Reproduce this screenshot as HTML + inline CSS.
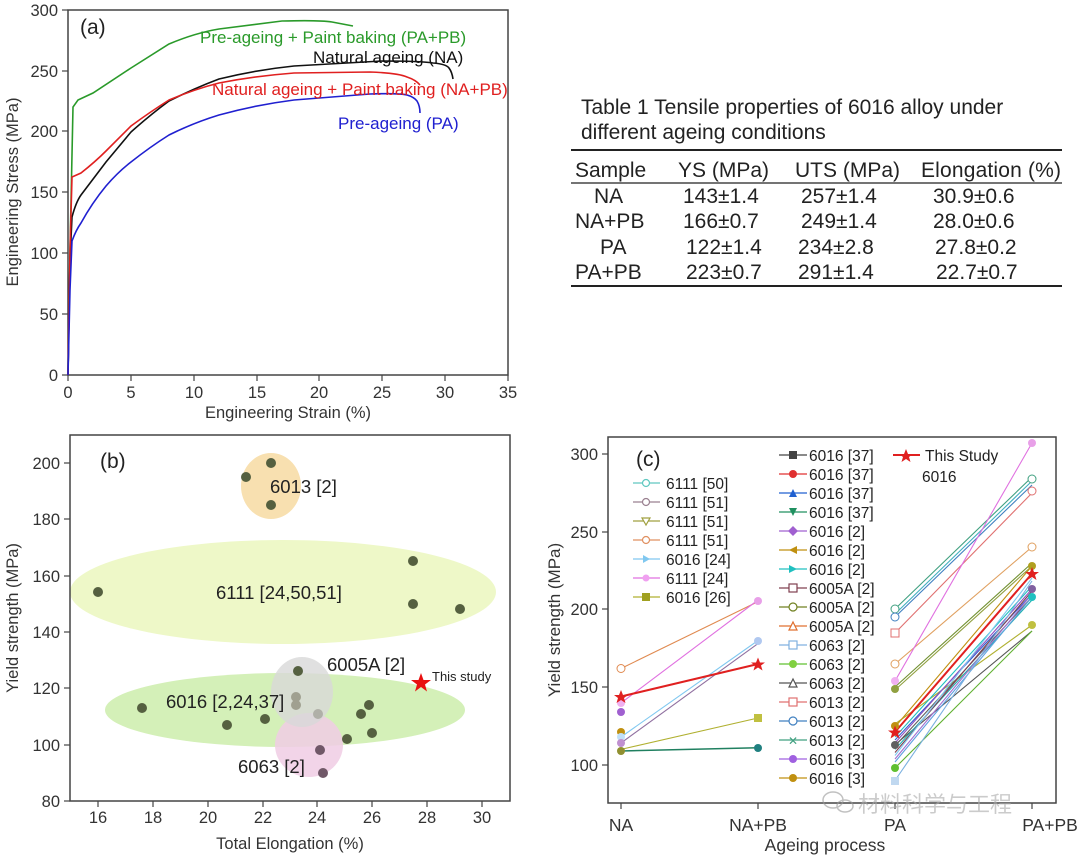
<!DOCTYPE html>
<html><head><meta charset="utf-8"><style>
html,body{margin:0;padding:0;background:#fff}
svg{display:block}
text{font-family:"Liberation Sans","Noto Sans CJK SC",sans-serif}
</style></head><body>
<svg width="1080" height="856" viewBox="0 0 1080 856" xmlns="http://www.w3.org/2000/svg">
<rect width="1080" height="856" fill="#fff"/>

<!-- Panel (a) -->
<g>
<rect x="68" y="10" width="440" height="365" fill="none" stroke="#444" stroke-width="1.5"/>
<g stroke="#444" stroke-width="1.2">
<line x1="68" y1="375" x2="68" y2="381"/><line x1="131" y1="375" x2="131" y2="381"/><line x1="194" y1="375" x2="194" y2="381"/><line x1="257" y1="375" x2="257" y2="381"/><line x1="319" y1="375" x2="319" y2="381"/><line x1="382" y1="375" x2="382" y2="381"/><line x1="445" y1="375" x2="445" y2="381"/><line x1="508" y1="375" x2="508" y2="381"/>
<line x1="62" y1="375" x2="68" y2="375"/><line x1="62" y1="314" x2="68" y2="314"/><line x1="62" y1="253" x2="68" y2="253"/><line x1="62" y1="192" x2="68" y2="192"/><line x1="62" y1="131" x2="68" y2="131"/><line x1="62" y1="71" x2="68" y2="71"/><line x1="62" y1="10" x2="68" y2="10"/>
</g>
<g font-size="16.5" fill="#333" text-anchor="middle">
<text x="68" y="398">0</text><text x="131" y="398">5</text><text x="194" y="398">10</text><text x="257" y="398">15</text><text x="319" y="398">20</text><text x="382" y="398">25</text><text x="445" y="398">30</text><text x="508" y="398">35</text>
<text x="288" y="418">Engineering Strain (%)</text>
</g>
<g font-size="16.5" fill="#333" text-anchor="end">
<text x="58" y="381">0</text><text x="58" y="320">50</text><text x="58" y="259">100</text><text x="58" y="198">150</text><text x="58" y="137">200</text><text x="58" y="77">250</text><text x="58" y="16">300</text>
</g>
<text transform="translate(18,192) rotate(-90)" font-size="16.5" fill="#333" text-anchor="middle">Engineering Stress (MPa)</text>
<text x="80" y="34" font-size="21" fill="#222">(a)</text>
<g fill="none" stroke-width="1.6">
<path d="M68,375 L70,250 L73,107 L78,100 L93,93 L131,68 L169,44 Q195,33 219,29 L282,21 Q320,20 332,22 L353,26" stroke="#2a9a2a"/>
<path d="M68,375 L70,260 L72,217 Q76,202 81,195 L106,162 L131,132 Q150,115 169,101 Q195,88 219,79 Q255,70 294,66 L382,61 Q420,61 433,63 Q446,64 449,68 Q452,72 453,79" stroke="#111"/>
<path d="M68,375 L70,250 L72,177 L81,173 Q95,162 106,151 L131,126 Q150,112 169,100 Q195,89 219,83 Q255,76 294,73 L370,72 Q398,73 407,77 Q416,80 420,85" stroke="#e02020"/>
<path d="M68,375 L70,290 L72,241 Q76,230 81,223 Q92,203 106,186 Q118,172 131,162 Q150,147 169,135 Q193,123 219,115 Q255,105 294,100 L370,94 Q400,93 407,95 Q414,97 417,101 Q420,106 420,113" stroke="#2020d0"/>
</g>
<text x="200" y="43" font-size="17" fill="#2a9a2a">Pre-ageing + Paint baking (PA+PB)</text>
<text x="313" y="63" font-size="17" fill="#111">Natural ageing (NA)</text>
<text x="212" y="95" font-size="17" fill="#e02020">Natural ageing + Paint baking (NA+PB)</text>
<text x="338" y="129" font-size="17" fill="#2020d0">Pre-ageing (PA)</text>
</g>

<!-- Table -->
<g font-size="21" fill="#222">
<text x="581" y="114">Table 1 Tensile properties of 6016 alloy under</text>
<text x="581" y="139">different ageing conditions</text>
<line x1="571" y1="150" x2="1062" y2="150" stroke="#222" stroke-width="2"/>
<text x="575" y="177">Sample</text><text x="678" y="177">YS (MPa)</text><text x="795" y="177">UTS (MPa)</text><text x="921" y="177" textLength="140">Elongation (%)</text>
<line x1="571" y1="183" x2="1062" y2="183" stroke="#222" stroke-width="1.2"/>
<text x="594" y="203">NA</text><text x="683" y="203">143±1.4</text><text x="801" y="203">257±1.4</text><text x="933" y="203">30.9±0.6</text>
<text x="575" y="228">NA+PB</text><text x="683" y="228">166±0.7</text><text x="801" y="228">249±1.4</text><text x="933" y="228">28.0±0.6</text>
<text x="600" y="254">PA</text><text x="686" y="254">122±1.4</text><text x="798" y="254">234±2.8</text><text x="935" y="254">27.8±0.2</text>
<text x="575" y="279">PA+PB</text><text x="686" y="279">223±0.7</text><text x="798" y="279">291±1.4</text><text x="936" y="279">22.7±0.7</text>
<line x1="571" y1="286" x2="1062" y2="286" stroke="#222" stroke-width="2"/>
</g>

<!-- Panel (b) -->
<g>
<ellipse cx="283" cy="592" rx="213" ry="52" fill="#eef8c8"/>
<ellipse cx="285" cy="710" rx="180" ry="37" fill="#d4f0b8"/>
<ellipse cx="271" cy="486" rx="30" ry="33" fill="#f8e0b0"/>
<ellipse cx="309" cy="745" rx="34" ry="32" fill="#f0cce4" opacity="0.85"/>
<ellipse cx="302" cy="692" rx="31" ry="35" fill="#d8d8d8" opacity="0.8"/>
<rect x="70" y="435" width="440" height="366" fill="none" stroke="#444" stroke-width="1.5"/>
<g stroke="#444" stroke-width="1.2">
<line x1="98" y1="801" x2="98" y2="807"/><line x1="153" y1="801" x2="153" y2="807"/><line x1="208" y1="801" x2="208" y2="807"/><line x1="263" y1="801" x2="263" y2="807"/><line x1="317" y1="801" x2="317" y2="807"/><line x1="372" y1="801" x2="372" y2="807"/><line x1="427" y1="801" x2="427" y2="807"/><line x1="482" y1="801" x2="482" y2="807"/>
<line x1="64" y1="801" x2="70" y2="801"/><line x1="64" y1="745" x2="70" y2="745"/><line x1="64" y1="688" x2="70" y2="688"/><line x1="64" y1="632" x2="70" y2="632"/><line x1="64" y1="576" x2="70" y2="576"/><line x1="64" y1="519" x2="70" y2="519"/><line x1="64" y1="463" x2="70" y2="463"/>
</g>
<g font-size="16.5" fill="#333" text-anchor="middle">
<text x="98" y="823">16</text><text x="153" y="823">18</text><text x="208" y="823">20</text><text x="263" y="823">22</text><text x="317" y="823">24</text><text x="372" y="823">26</text><text x="427" y="823">28</text><text x="482" y="823">30</text>
<text x="290" y="849">Total Elongation (%)</text>
</g>
<g font-size="16.5" fill="#333" text-anchor="end">
<text x="60" y="807">80</text><text x="60" y="751">100</text><text x="60" y="694">120</text><text x="60" y="638">140</text><text x="60" y="582">160</text><text x="60" y="525">180</text><text x="60" y="469">200</text>
</g>
<text transform="translate(18,618) rotate(-90)" font-size="16.5" fill="#333" text-anchor="middle">Yield strength (MPa)</text>
<text x="100" y="468" font-size="21" fill="#222">(b)</text>
<g fill="#556040">
<circle cx="246" cy="477" r="5"/><circle cx="271" cy="463" r="5"/><circle cx="271" cy="505" r="5"/>
<circle cx="98" cy="592" r="5"/><circle cx="413" cy="561" r="5"/><circle cx="413" cy="604" r="5"/><circle cx="460" cy="609" r="5"/>
<circle cx="142" cy="708" r="5"/><circle cx="227" cy="725" r="5"/><circle cx="265" cy="719" r="5"/><circle cx="298" cy="671" r="5"/>
<circle cx="296" cy="697" r="5" fill="#a0a090"/><circle cx="296" cy="705" r="5" fill="#a0a090"/><circle cx="318" cy="714" r="5" fill="#b0b0a8"/>
<circle cx="347" cy="739" r="5"/><circle cx="361" cy="714" r="5"/><circle cx="369" cy="705" r="5"/><circle cx="372" cy="733" r="5"/>
<circle cx="320" cy="750" r="5" fill="#705868"/><circle cx="323" cy="773" r="5" fill="#705868"/>
</g>
<polygon points="421,673 423.5,680 431,680 425,684.5 427,691.5 421,687 415,691.5 417,684.5 411,680 418.5,680" fill="#e81010"/>
<g font-size="18.5" fill="#222">
<text x="270" y="493">6013 [2]</text>
<text x="216" y="599">6111 [24,50,51]</text>
<text x="327" y="671">6005A [2]</text>
<text x="166" y="708">6016 [2,24,37]</text>
<text x="238" y="773">6063 [2]</text>
<text x="432" y="681" font-size="13">This study</text>
</g>
</g>

<!-- Panel (c) -->
<g>
<rect x="608" y="437" width="448" height="366" fill="none" stroke="#444" stroke-width="1.5"/>
<g stroke="#444" stroke-width="1.2">
<line x1="621" y1="803" x2="621" y2="809"/><line x1="758" y1="803" x2="758" y2="809"/><line x1="895" y1="803" x2="895" y2="809"/><line x1="1032" y1="803" x2="1032" y2="809"/>
<line x1="602" y1="765" x2="608" y2="765"/><line x1="602" y1="687" x2="608" y2="687"/><line x1="602" y1="609" x2="608" y2="609"/><line x1="602" y1="532" x2="608" y2="532"/><line x1="602" y1="454" x2="608" y2="454"/>
</g>
<g font-size="17.5" fill="#333" text-anchor="middle">
<text x="621" y="831">NA</text><text x="758" y="831">NA+PB</text><text x="895" y="831">PA</text><text x="1050" y="831">PA+PB</text>
<text x="825" y="851">Ageing process</text>
</g>
<g font-size="16.5" fill="#333" text-anchor="end">
<text x="598" y="771">100</text><text x="598" y="693">150</text><text x="598" y="615">200</text><text x="598" y="538">250</text><text x="598" y="460">300</text>
</g>
<text transform="translate(560,620) rotate(-90)" font-size="17" fill="#333" text-anchor="middle">Yield strength (MPa)</text>
<text x="636" y="466" font-size="21" fill="#222">(c)</text>
<g fill="none" stroke-width="1.1">
<line x1="621" y1="668.5" x2="758" y2="601.6" stroke="#e08a50"/>
<line x1="621" y1="703" x2="758" y2="600" stroke="#e070e0"/>
<line x1="621" y1="737" x2="758" y2="640.5" stroke="#80c8f0"/>
<line x1="621" y1="743" x2="758" y2="643.6" stroke="#9070a0"/>
<line x1="621" y1="749.4" x2="758" y2="718" stroke="#b0b030"/>
<line x1="621" y1="751" x2="758" y2="747.8" stroke="#208060" stroke-width="1.5"/>
<line x1="895" y1="609" x2="1032" y2="477" stroke="#40a080"/>
<line x1="895" y1="614" x2="1032" y2="481" stroke="#40b0c0"/>
<line x1="895" y1="617" x2="1032" y2="485" stroke="#4080c0"/>
<line x1="895" y1="633" x2="1032" y2="493" stroke="#e07070"/>
<line x1="895" y1="664" x2="1032" y2="547" stroke="#e0a060"/>
<line x1="895" y1="681" x2="1032" y2="443" stroke="#e070e0"/>
<line x1="895" y1="687" x2="1032" y2="563" stroke="#709030"/>
<line x1="895" y1="690" x2="1032" y2="566" stroke="#90a040"/>
<line x1="895" y1="724" x2="1032" y2="625" stroke="#b0b030"/>
<line x1="895" y1="727" x2="1032" y2="566" stroke="#c09010"/>
<line x1="895" y1="737" x2="1032" y2="586" stroke="#20c0c0"/>
<line x1="895" y1="740" x2="1032" y2="594" stroke="#3060d0"/>
<line x1="895" y1="743" x2="1032" y2="589" stroke="#9050c0"/>
<line x1="895" y1="744.7" x2="1032" y2="631" stroke="#555"/>
<line x1="895" y1="746" x2="1032" y2="597" stroke="#606060"/>
<line x1="895" y1="749.4" x2="1032" y2="600" stroke="#20b0b0"/>
<line x1="895" y1="752.5" x2="1032" y2="591" stroke="#804050"/>
<line x1="895" y1="755.5" x2="1032" y2="578" stroke="#80c8f0"/>
<line x1="895" y1="759" x2="1032" y2="594" stroke="#a070d0"/>
<line x1="895" y1="762" x2="1032" y2="597" stroke="#60a0e0"/>
<line x1="895" y1="768" x2="1032" y2="631" stroke="#60b030"/>
<line x1="895" y1="780.5" x2="1032" y2="581" stroke="#7ab0e0"/>
<line x1="621" y1="696.5" x2="758" y2="664" stroke="#e02020" stroke-width="2"/>
<line x1="895" y1="732" x2="1032" y2="573.6" stroke="#e02020" stroke-width="2"/>
</g>
<g stroke-width="1">
<circle cx="621" cy="668.5" r="4" fill="#fff" stroke="#e08a50"/>
<circle cx="621" cy="703" r="4" fill="#f0b0f0"/>
<circle cx="621" cy="712" r="4" fill="#a060d0"/>
<circle cx="621" cy="732" r="4" fill="#c09010"/>
<circle cx="621" cy="737" r="4" fill="#c0e0f8"/>
<circle cx="621" cy="743" r="4" fill="#c090d0"/>
<circle cx="621" cy="751" r="4" fill="#909030"/>
<circle cx="758" cy="601" r="4" fill="#e8a0e8"/>
<circle cx="758" cy="641" r="4" fill="#b0c8f0"/>
<rect x="754" y="714" width="8" height="8" fill="#c0c040"/>
<circle cx="758" cy="748" r="4" fill="#208080"/>
<circle cx="895" cy="609" r="4" fill="#fff" stroke="#40a080"/>
<circle cx="895" cy="617" r="4" fill="#fff" stroke="#4080c0"/>
<rect x="891" y="629" width="8" height="8" fill="#fff" stroke="#e07070"/>
<circle cx="895" cy="664" r="4" fill="#fff" stroke="#e0a060"/>
<circle cx="895" cy="681" r="4" fill="#f0b0f0"/>
<circle cx="895" cy="689" r="4" fill="#90a040"/>
<circle cx="895" cy="726" r="4" fill="#c09010"/>
<circle cx="895" cy="745" r="4" fill="#606060"/>
<circle cx="895" cy="768" r="4" fill="#60c030"/>
<rect x="891" y="777" width="8" height="8" fill="#c0d8f0"/>
<circle cx="1032" cy="443" r="4" fill="#e8a0e8"/>
<circle cx="1032" cy="479" r="4" fill="#fff" stroke="#40a080"/>
<circle cx="1032" cy="491" r="4" fill="#fff" stroke="#e07070"/>
<circle cx="1032" cy="547" r="4" fill="#fff" stroke="#e0a060"/>
<circle cx="1032" cy="566" r="4" fill="#b0a020"/>
<circle cx="1032" cy="589" r="4" fill="#8060a0"/>
<circle cx="1032" cy="597" r="4" fill="#20c0c0"/>
<circle cx="1032" cy="625" r="4" fill="#c0c040"/>
</g>
<polygon points="621,690 623,695 628,695 624,698 625.5,703 621,700 616.5,703 618,698 614,695 619,695" fill="#e02020"/>
<polygon points="758,657.5 760,662.5 765,662.5 761,665.5 762.5,670.5 758,667.5 753.5,670.5 755,665.5 751,662.5 756,662.5" fill="#e02020"/>
<polygon points="895,725.5 897,730.5 902,730.5 898,733.5 899.5,738.5 895,735.5 890.5,738.5 892,733.5 888,730.5 893,730.5" fill="#e02020"/>
<polygon points="1032,567 1034,572 1039,572 1035,575 1036.5,580 1032,577 1027.5,580 1029,575 1025,572 1030,572" fill="#e02020"/>
<!-- legend left -->
<g font-size="15.5" fill="#222">
<g stroke-width="1.2">
<line x1="633" y1="483" x2="660" y2="483" stroke="#60c8c0"/><circle cx="646" cy="483" r="3.5" fill="#fff" stroke="#60c8c0"/>
<line x1="633" y1="502" x2="660" y2="502" stroke="#9a8090"/><circle cx="646" cy="502" r="3.5" fill="#fff" stroke="#9a8090"/>
<line x1="633" y1="521" x2="660" y2="521" stroke="#a0a040"/><polygon points="642,518 650,518 646,525" fill="#fff" stroke="#a0a040"/>
<line x1="633" y1="540" x2="660" y2="540" stroke="#e09060"/><circle cx="646" cy="540" r="3.5" fill="#fff" stroke="#e09060"/>
<line x1="633" y1="559" x2="660" y2="559" stroke="#80c8f0"/><polygon points="643,555 650,559 643,563" fill="#80c8f0"/>
<line x1="633" y1="578" x2="660" y2="578" stroke="#e070e0"/><circle cx="646" cy="578" r="3.5" fill="#f0a0f0"/>
<line x1="633" y1="597" x2="660" y2="597" stroke="#b0b030"/><rect x="642" y="593" width="8" height="8" fill="#a0a020"/>
</g>
<text x="666" y="489">6111 [50]</text><text x="666" y="508">6111 [51]</text><text x="666" y="527">6111 [51]</text><text x="666" y="546">6111 [51]</text><text x="666" y="565">6016 [24]</text><text x="666" y="584">6111 [24]</text><text x="666" y="603">6016 [26]</text>
</g>
<!-- legend middle -->
<g font-size="15.5" fill="#222">
<g stroke-width="1.2">
<line x1="779" y1="455" x2="807" y2="455" stroke="#444"/><rect x="789" y="451" width="8" height="8" fill="#444"/>
<line x1="779" y1="474" x2="807" y2="474" stroke="#e03030"/><circle cx="793" cy="474" r="4" fill="#e03030"/>
<line x1="779" y1="493" x2="807" y2="493" stroke="#2060d0"/><polygon points="789,497 797,497 793,489" fill="#2060d0"/>
<line x1="779" y1="512" x2="807" y2="512" stroke="#209060"/><polygon points="789,508 797,508 793,516" fill="#209060"/>
<line x1="779" y1="531" x2="807" y2="531" stroke="#a060d0"/><polygon points="793,526 798,531 793,536 788,531" fill="#a060d0"/>
<line x1="779" y1="550" x2="807" y2="550" stroke="#c09010"/><polygon points="797,546 789,550 797,554" fill="#c09010"/>
<line x1="779" y1="569" x2="807" y2="569" stroke="#20c0c0"/><polygon points="789,565 797,569 789,573" fill="#20c0c0"/>
<line x1="779" y1="588" x2="807" y2="588" stroke="#804050"/><rect x="789" y="584" width="8" height="8" fill="#fff" stroke="#804050"/>
<line x1="779" y1="607" x2="807" y2="607" stroke="#708020"/><circle cx="793" cy="607" r="4" fill="#fff" stroke="#708020"/>
<line x1="779" y1="626" x2="807" y2="626" stroke="#e07030"/><polygon points="789,630 797,630 793,622" fill="#fff" stroke="#e07030"/>
<line x1="779" y1="645" x2="807" y2="645" stroke="#80b0e0"/><rect x="789" y="641" width="8" height="8" fill="#fff" stroke="#80b0e0"/>
<line x1="779" y1="664" x2="807" y2="664" stroke="#60c030"/><circle cx="793" cy="664" r="4" fill="#80d040"/>
<line x1="779" y1="683" x2="807" y2="683" stroke="#555"/><polygon points="789,687 797,687 793,679" fill="#fff" stroke="#555"/>
<line x1="779" y1="702" x2="807" y2="702" stroke="#e07070"/><rect x="789" y="698" width="8" height="8" fill="#fff" stroke="#e07070"/>
<line x1="779" y1="721" x2="807" y2="721" stroke="#4080c0"/><circle cx="793" cy="721" r="4" fill="#fff" stroke="#4080c0"/>
<line x1="779" y1="740" x2="807" y2="740" stroke="#40a080"/><text x="793" y="745" font-size="12" fill="#40a080" text-anchor="middle">✕</text>
<line x1="779" y1="759" x2="807" y2="759" stroke="#a060e0"/><circle cx="793" cy="759" r="4" fill="#a060e0"/>
<line x1="779" y1="778" x2="807" y2="778" stroke="#c09010"/><circle cx="793" cy="778" r="4" fill="#c09010"/>
</g>
<text x="809" y="461">6016 [37]</text><text x="809" y="480">6016 [37]</text><text x="809" y="499">6016 [37]</text><text x="809" y="518">6016 [37]</text><text x="809" y="537">6016 [2]</text><text x="809" y="556">6016 [2]</text><text x="809" y="575">6016 [2]</text><text x="809" y="594">6005A [2]</text><text x="809" y="613">6005A [2]</text><text x="809" y="632">6005A [2]</text><text x="809" y="651">6063 [2]</text><text x="809" y="670">6063 [2]</text><text x="809" y="689">6063 [2]</text><text x="809" y="708">6013 [2]</text><text x="809" y="727">6013 [2]</text><text x="809" y="746">6013 [2]</text><text x="809" y="765">6016 [3]</text><text x="809" y="784">6016 [3]</text>
<line x1="893" y1="455" x2="920" y2="455" stroke="#e02020" stroke-width="2"/>
<polygon points="906,449 908,454 913,454 909,457 910.5,462 906,459 901.5,462 903,457 899,454 904,454" fill="#e02020"/>
<text x="925" y="461">This Study</text><text x="922" y="482">6016</text>
</g>
<!-- watermark -->
<g opacity="0.6">
<ellipse cx="833" cy="800" rx="10" ry="8" fill="none" stroke="#999" stroke-width="1.5"/>
<ellipse cx="845" cy="806" rx="8" ry="6" fill="none" stroke="#999" stroke-width="1.5"/>
<text x="858" y="812" font-size="22" fill="#aaa">材料科学与工程</text>
</g>
</g>
</svg>
</body></html>
